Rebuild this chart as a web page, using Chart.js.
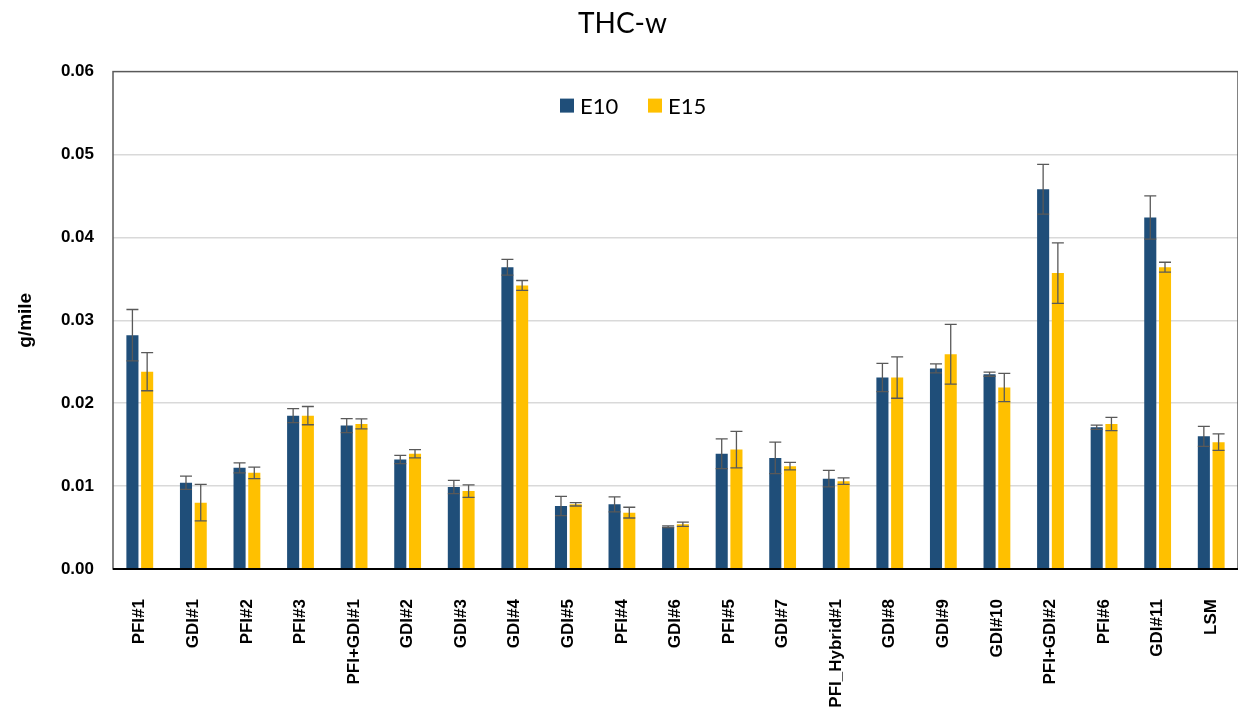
<!DOCTYPE html>
<html lang="en">
<head>
<meta charset="UTF-8">
<title>THC-w</title>
<script src="https://cdn.jsdelivr.net/npm/chart.js@4"></script>
<style>
  body { margin: 0; background: #fff; }
  #wrap { width: 1238px; height: 719px; }
</style>
</head>
<body>
<div id="wrap"><canvas id="chart" width="1238" height="719"></canvas></div>
<script>
// Vehicle categories along the x axis
const categories = ['PFI#1', 'GDI#1', 'PFI#2', 'PFI#3', 'PFI+GDI#1', 'GDI#2', 'GDI#3', 'GDI#4', 'GDI#5', 'PFI#4', 'GDI#6',
  'PFI#5', 'GDI#7', 'PFI_Hybrid#1', 'GDI#8', 'GDI#9', 'GDI#10', 'PFI+GDI#2', 'PFI#6', 'GDI#11', 'LSM'];

// THC-w emissions, g/mile
const e10 = [0.0282, 0.0104, 0.0122, 0.0185, 0.0173, 0.0132, 0.0099, 0.0364, 0.0076, 0.0078, 0.0051,
  0.0139, 0.0134, 0.0109, 0.0231, 0.0242, 0.0235, 0.0458, 0.0171, 0.0424, 0.0160];
const e15 = [0.0238, 0.0080, 0.0116, 0.0185, 0.0175, 0.0139, 0.0094, 0.0342, 0.0078, 0.0068, 0.0054,
  0.0144, 0.0124, 0.0106, 0.0231, 0.0259, 0.0219, 0.0357, 0.0175, 0.0364, 0.0153];

// error bar half-widths (+/-)
const e10Err = [0.0031, 0.0008, 0.0006, 0.00085, 0.00085, 0.0005, 0.0008, 0.00095, 0.00115, 0.0009, 0.0001,
  0.0018, 0.0019, 0.0010, 0.0017, 0.00055, 0.00025, 0.0030, 0.00025, 0.0026, 0.0012];
const e15Err = [0.0023, 0.0022, 0.0007, 0.0011, 0.0006, 0.0005, 0.00075, 0.0006, 0.0002, 0.00065, 0.00025,
  0.0022, 0.00045, 0.0004, 0.0025, 0.0036, 0.0017, 0.00365, 0.0008, 0.0006, 0.0010];

const yTicks = [0, 0.01, 0.02, 0.03, 0.04, 0.05, 0.06];

const BLUE = '#1F4E79';
const GOLD = '#FFC000';

// Draw the +/- error bars over each bar, using the y scale
const errorBars = {
  id: 'errorBars',
  afterDatasetsDraw(chart) {
    const ctx = chart.ctx;
    const y = chart.scales.y;
    ctx.save();
    ctx.strokeStyle = '#595959';
    ctx.lineWidth = 1.3;
    chart.data.datasets.forEach((ds, di) => {
      const meta = chart.getDatasetMeta(di);
      meta.data.forEach((bar, i) => {
        const v = ds.data[i];
        const e = ds.errors[i];
        const top = y.getPixelForValue(v + e);
        const bot = y.getPixelForValue(v - e);
        const cap = 6;
        ctx.beginPath();
        ctx.moveTo(bar.x, top); ctx.lineTo(bar.x, bot);
        ctx.moveTo(bar.x - cap, top); ctx.lineTo(bar.x + cap, top);
        ctx.moveTo(bar.x - cap, bot); ctx.lineTo(bar.x + cap, bot);
        ctx.stroke();
      });
    });
    ctx.restore();
  }
};

// Plot frame and the legend inside the plot area
const frameAndLegend = {
  id: 'frameAndLegend',
  afterDraw(chart) {
    const { ctx, chartArea: a } = chart;
    ctx.save();
    ctx.strokeStyle = '#595959';
    ctx.lineWidth = 1.5;
    ctx.strokeRect(a.left, a.top, a.right - a.left, a.bottom - a.top);
    ctx.strokeStyle = '#000';
    ctx.lineWidth = 2;
    ctx.beginPath();
    ctx.moveTo(a.left, a.bottom); ctx.lineTo(a.right, a.bottom);
    ctx.stroke();

    ctx.font = '22px Lato, "Liberation Sans", sans-serif';
    ctx.textBaseline = 'middle';
    ctx.fillStyle = '#000';
    let x = a.left + 447;
    const yMid = a.top + 34;
    chart.data.datasets.forEach(ds => {
      ctx.fillStyle = ds.backgroundColor;
      ctx.fillRect(x, yMid - 7, 14, 14);
      ctx.fillStyle = '#000';
      ctx.fillText(ds.label, x + 20, yMid + 1);
      x += 88;
    });
    ctx.restore();
  }
};

new Chart(document.getElementById('chart'), {
  type: 'bar',
  data: {
    labels: categories,
    datasets: [
      { label: 'E10', data: e10, errors: e10Err, backgroundColor: BLUE },
      { label: 'E15', data: e15, errors: e15Err, backgroundColor: GOLD }
    ]
  },
  options: {
    responsive: false,
    animation: false,
    categoryPercentage: 0.55,
    barPercentage: 0.82,
    layout: { padding: { top: 0, right: -7, bottom: 0, left: 0 } },
    plugins: {
      legend: { display: false },
      tooltip: { enabled: false },
      title: {
        display: true,
        text: 'THC-w',
        color: '#000',
        font: { family: 'Lato, "Liberation Sans", sans-serif', size: 28, weight: 'normal' },
        padding: { top: 7, bottom: 31 }
      }
    },
    scales: {
      x: {
        grid: { display: false, drawTicks: false },
        border: { display: false },
        ticks: {
          color: '#000',
          autoSkip: false,
          maxRotation: 90,
          minRotation: 90,
          padding: 30,
          font: { family: '"Liberation Sans", Arial, sans-serif', size: 17, weight: 'bold' }
        },
        afterFit(scale) {
          scale.height = 150;
          scale.paddingLeft = 0;
          scale.paddingRight = 0;
        }
      },
      y: {
        min: 0,
        max: 0.06,
        afterBuildTicks(scale) { scale.ticks = yTicks.map(v => ({ value: v })); },
        grid: {
          drawTicks: false,
          color: ctx => (ctx.tick.value === 0 || ctx.tick.value === 0.06) ? 'rgba(0,0,0,0)' : '#d9d9d9',
          lineWidth: 1.5
        },
        border: { display: false },
        ticks: {
          color: '#000',
          padding: 19,
          callback: v => Number(v).toFixed(2),
          font: { family: '"Liberation Sans", Arial, sans-serif', size: 17, weight: 'bold' }
        },
        title: {
          display: true,
          text: 'g/mile',
          color: '#000',
          padding: { top: 14, bottom: 10 },
          font: { family: '"Liberation Sans", Arial, sans-serif', size: 19, weight: 'bold' }
        },
        afterFit(scale) {
          scale.width = 113;
          scale.paddingTop = 0;
          scale.paddingBottom = 0;
        }
      }
    }
  },
  plugins: [errorBars, frameAndLegend]
});
</script>
</body>
</html>
